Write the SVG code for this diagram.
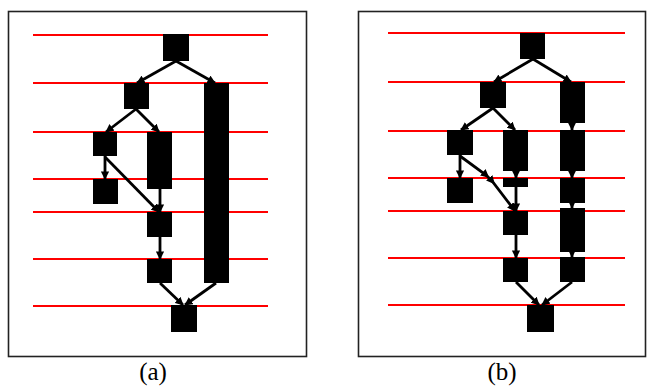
<svg xmlns="http://www.w3.org/2000/svg" width="648" height="390" viewBox="0 0 648 390">
  <style>
    .frame { fill: #fff; stroke: #222; stroke-width: 1.6; }
    .level { stroke: #ff0000; stroke-width: 2; }
    .task { fill: #000; }
    .edge { stroke: #000; stroke-width: 2.8; fill: none; marker-end: url(#arrow); }
    .cap { font-family: "Liberation Serif", serif; font-size: 25px; fill: #000; text-anchor: middle; }
  </style>
  <defs>
    <marker id="arrow" viewBox="0 0 10 10" refX="9" refY="5" markerWidth="3" markerHeight="3" orient="auto" markerUnits="strokeWidth">
      <path d="M0,0 L10,5 L0,10 z" fill="#000"/>
    </marker>
    <marker id="mid" viewBox="0 0 10 10" refX="5" refY="5" markerWidth="3" markerHeight="3" orient="auto" markerUnits="strokeWidth">
      <path d="M0,0 L10,5 L0,10 z" fill="#000"/>
    </marker>
  </defs>

  <rect width="648" height="390" fill="#fff"/>

  <!-- panel (a) -->
  <rect class="frame" x="8.5" y="11.5" width="298" height="345"/>
  <g id="levels-a">
    <line class="level" x1="33" y1="35" x2="268" y2="35"/>
    <line class="level" x1="33" y1="83" x2="268" y2="83"/>
    <line class="level" x1="33" y1="132" x2="268" y2="132"/>
    <line class="level" x1="33" y1="179" x2="268" y2="179"/>
    <line class="level" x1="33" y1="212" x2="268" y2="212"/>
    <line class="level" x1="33" y1="259" x2="268" y2="259"/>
    <line class="level" x1="33" y1="306" x2="268" y2="306"/>
  </g>
  <g id="edges-a">
    <line class="edge" x1="176" y1="61" x2="137" y2="83"/>
    <line class="edge" x1="176" y1="61" x2="215" y2="83"/>
    <line class="edge" x1="136" y1="109" x2="106" y2="132"/>
    <line class="edge" x1="136" y1="109" x2="159" y2="132"/>
    <line class="edge" x1="105" y1="156" x2="105" y2="179"/>
    <line class="edge" x1="105" y1="157" x2="159" y2="212"/>
    <line class="edge" x1="160" y1="189" x2="160" y2="212"/>
    <line class="edge" x1="160" y1="237" x2="160" y2="259"/>
    <line class="edge" x1="160" y1="283" x2="183" y2="305"/>
    <line class="edge" x1="216" y1="283" x2="185" y2="305"/>
  </g>
  <g id="a-n1"><rect class="task" x="163" y="34" width="26" height="27"/></g>
  <g id="a-n2"><rect class="task" x="124" y="83" width="25" height="26"/></g>
  <g id="a-n3"><rect class="task" x="204" y="83" width="25" height="200"/></g>
  <g id="a-n4"><rect class="task" x="93" y="132" width="24" height="24"/></g>
  <g id="a-n5"><rect class="task" x="147" y="132" width="25" height="57"/></g>
  <g id="a-n6"><rect class="task" x="93" y="179" width="25" height="25"/></g>
  <g id="a-n7"><rect class="task" x="147" y="212" width="25" height="25"/></g>
  <g id="a-n8"><rect class="task" x="147" y="259" width="25" height="24"/></g>
  <g id="a-n9"><rect class="task" x="171" y="305" width="26" height="27"/></g>
  <text class="cap" x="153" y="380">(a)</text>

  <!-- panel (b) -->
  <rect class="frame" x="358.5" y="11.5" width="287" height="345"/>
  <g id="levels-b">
    <line class="level" x1="388" y1="33" x2="625" y2="33"/>
    <line class="level" x1="388" y1="82" x2="625" y2="82"/>
    <line class="level" x1="388" y1="131" x2="625" y2="131"/>
    <line class="level" x1="388" y1="178" x2="625" y2="178"/>
    <line class="level" x1="388" y1="211" x2="625" y2="211"/>
    <line class="level" x1="388" y1="258" x2="625" y2="258"/>
    <line class="level" x1="388" y1="305" x2="625" y2="305"/>
  </g>
  <g id="edges-b">
    <line class="edge" x1="533" y1="59" x2="494" y2="82"/>
    <line class="edge" x1="533" y1="59" x2="571" y2="82"/>
    <line class="edge" x1="493" y1="108" x2="461" y2="130"/>
    <line class="edge" x1="493" y1="108" x2="515" y2="130"/>
    <line class="edge" x1="460" y1="155" x2="460" y2="178"/>
    <polyline class="edge" points="460,156 486,175 492,181 515,211" marker-mid="url(#mid)"/>
    <line class="edge" x1="516" y1="171" x2="516" y2="178"/>
    <line class="edge" x1="516" y1="187" x2="516" y2="211"/>
    <line class="edge" x1="516" y1="235" x2="516" y2="258"/>
    <line class="edge" x1="516" y1="282" x2="539" y2="305"/>
    <line class="edge" x1="572" y1="123" x2="572" y2="130"/>
    <line class="edge" x1="572" y1="171" x2="572" y2="178"/>
    <line class="edge" x1="572" y1="203" x2="572" y2="208"/>
    <line class="edge" x1="572" y1="252" x2="572" y2="257"/>
    <line class="edge" x1="572" y1="282" x2="542" y2="305"/>
  </g>
  <g id="b-n1"><rect class="task" x="520" y="33" width="25" height="26"/></g>
  <g id="b-n2"><rect class="task" x="480" y="82" width="26" height="26"/></g>
  <g id="b-n3a"><rect class="task" x="560" y="82" width="25" height="41"/></g>
  <g id="b-n3b"><rect class="task" x="560" y="130" width="25" height="41"/></g>
  <g id="b-n3c"><rect class="task" x="560" y="178" width="25" height="25"/></g>
  <g id="b-n3d"><rect class="task" x="560" y="208" width="25" height="44"/></g>
  <g id="b-n3e"><rect class="task" x="560" y="257" width="25" height="25"/></g>
  <g id="b-n4"><rect class="task" x="447" y="130" width="26" height="25"/></g>
  <g id="b-n5a"><rect class="task" x="503" y="130" width="25" height="41"/></g>
  <g id="b-n5b"><rect class="task" x="503" y="178" width="25" height="9"/></g>
  <g id="b-n6"><rect class="task" x="447" y="178" width="26" height="25"/></g>
  <g id="b-n7"><rect class="task" x="503" y="211" width="25" height="24"/></g>
  <g id="b-n8"><rect class="task" x="503" y="258" width="25" height="24"/></g>
  <g id="b-n9"><rect class="task" x="527" y="305" width="27" height="27"/></g>
  <text class="cap" x="502" y="380">(b)</text>
</svg>
